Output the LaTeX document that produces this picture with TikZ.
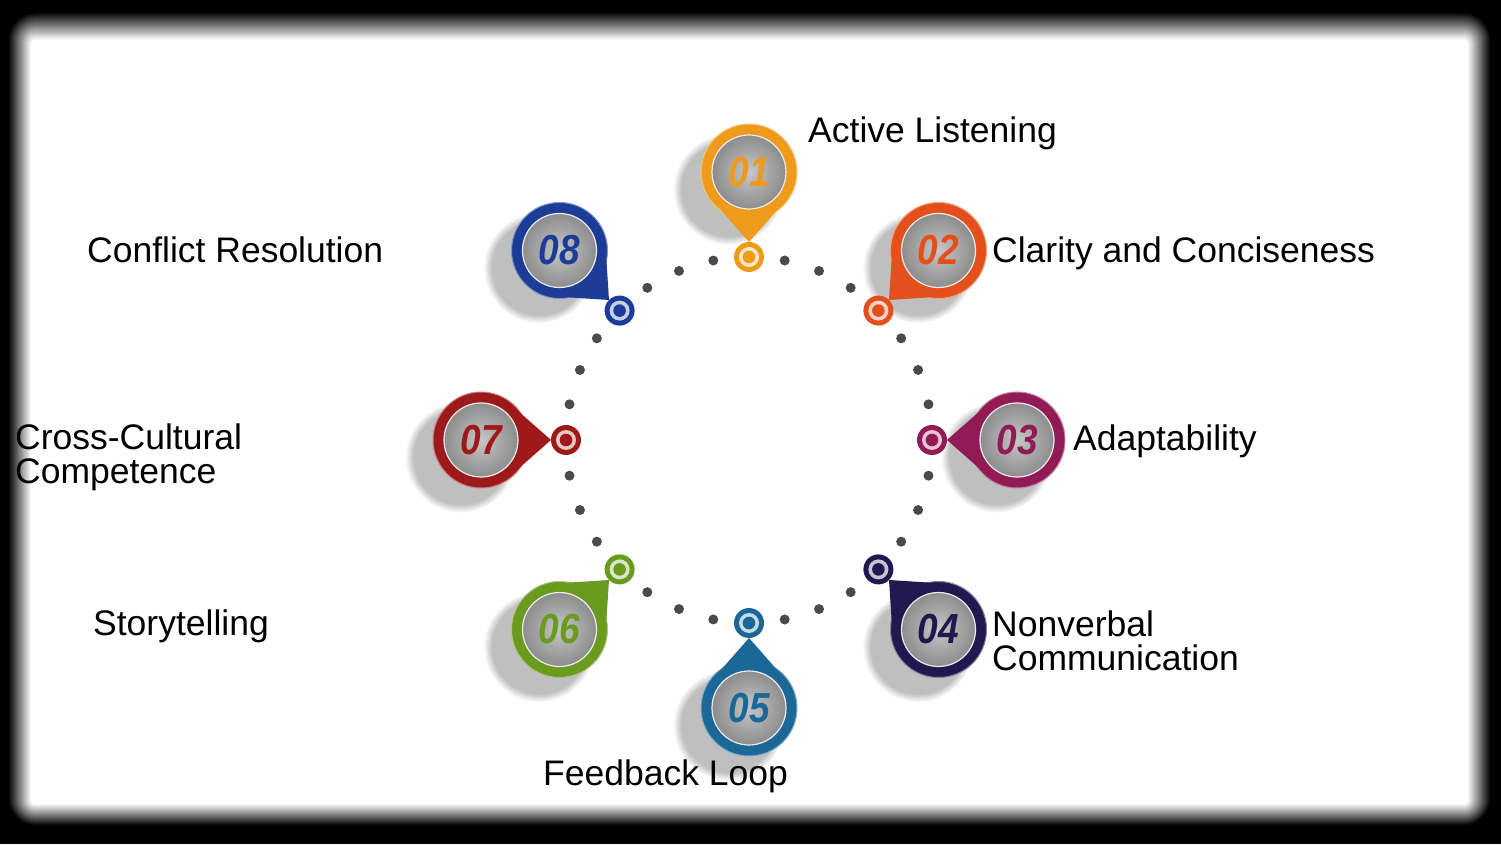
\documentclass[tikz,border=0pt]{standalone}
\usepackage{fontspec}
\setmainfont{Liberation Sans}
\usetikzlibrary{calc,shadows}
\definecolor{c1}{HTML}{EE9A1A}
\definecolor{c2}{HTML}{E4501C}
\definecolor{c3}{HTML}{921A55}
\definecolor{c4}{HTML}{211850}
\definecolor{c5}{HTML}{1B6798}
\definecolor{c6}{HTML}{6A9A1E}
\definecolor{c7}{HTML}{9E1A1A}
\definecolor{c8}{HTML}{1C3C98}
\definecolor{dotgray}{HTML}{4A4A4A}
\begin{document}
\begin{tikzpicture}[x=1pt,y=1pt,
  lbl/.style={font=\fontsize{35.5}{36}\selectfont, text=black, inner sep=0pt, anchor=base west},
  numtext/.style={font=\fontsize{42}{42}\selectfont\bfseries\itshape, inner sep=0pt},
  ringdot/.style={circle, fill=dotgray, minimum size=10pt, inner sep=0pt},
  badgering/.style={circle, minimum size=96pt, inner sep=0pt},
  badgedisc/.style={circle, minimum size=74pt, inner sep=0pt, inner color=black!22, outer color=black!45, draw=white!85!gray, line width=1.2pt},
  pinouter/.style={circle, minimum size=30pt, inner sep=0pt},
]
\useasboundingbox (0,0) rectangle (1501,844);
% blurred black frame
\fill[black] (0,0) rectangle (1501,844);
\foreach \k in {0,...,24}{
  \pgfmathsetmacro\frC{100-\k*100/24}
  \pgfmathsetmacro\frL{8+\k*0.95}
  \pgfmathsetmacro\frRt{1501-(10+\k*0.95)}
  \pgfmathsetmacro\frT{844-(12+\k*1.15)}
  \pgfmathsetmacro\frB{18+\k*0.9}
  \pgfmathsetmacro\frR{28-\k}
  \fill[black!\frC, rounded corners=\frR pt] (\frL,\frB) rectangle (\frRt,\frT);
}
\coordinate (O) at (749,404);
% dotted ring
\foreach \s in {0,...,7}{
  \foreach \t in {1,2,3}{
    \pgfmathsetmacro\aa{90-\s*45-\t*11.25}
    \node[ringdot] (d\s\t) at ($(O)+(\aa:183)$) {};
  }
}
% badges
\foreach \i/\ang/\num/\col in {1/90/01/c1, 2/45/02/c2, 3/0/03/c3, 4/-45/04/c4, 5/-90/05/c5, 6/-135/06/c6, 7/180/07/c7, 8/135/08/c8}{
  \pgfmathsetmacro\back{\ang+180}
  \pgfmathsetmacro\perp{\ang+90}
  \node[badgering, fill=\col, draw=\col!55!white, line width=1pt,
        circular drop shadow={shadow xshift=-18pt, shadow yshift=-15pt, shadow scale=1.15, opacity=0.5}]
        (b\i) at ($(O)+(\ang:268)$) {};
  \fill[\col] ($(b\i)+(\back:37)+(\perp:29)$) -- ($(b\i)+(\back:70)$) -- ($(b\i)+(\back:37)+(\perp:-29)$) -- cycle;
  \node[badgedisc] (disc\i) at (b\i) {};
  \node[numtext, text=\col] (n\i) at (b\i) {\scalebox{0.88}[1]{\num}};
  \node[pinouter, fill=\col] (p\i) at ($(O)+(\ang:183)$) {};
  \fill[\col!25!white] (p\i) circle (10);
  \fill[\col] (p\i) circle (6.3);
}
% labels
\node[lbl] (l1) at (808,701.5) {Active Listening};
\node[lbl] (l2) at (992,581.5) {Clarity and Conciseness};
\node[lbl] (l3) at (1073,393.5) {Adaptability};
\node[lbl] (l4a) at (992,207.5) {Nonverbal};
\node[lbl] (l4b) at (992,173.5) {Communication};
\node[lbl] (l5) at (543,58.5) {Feedback Loop};
\node[lbl] (l6) at (93,208.5) {Storytelling};
\node[lbl] (l7a) at (15,394.5) {Cross-Cultural};
\node[lbl] (l7b) at (15,360.5) {Competence};
\node[lbl] (l8) at (87,581.5) {Conflict Resolution};
\end{tikzpicture}
\end{document}
